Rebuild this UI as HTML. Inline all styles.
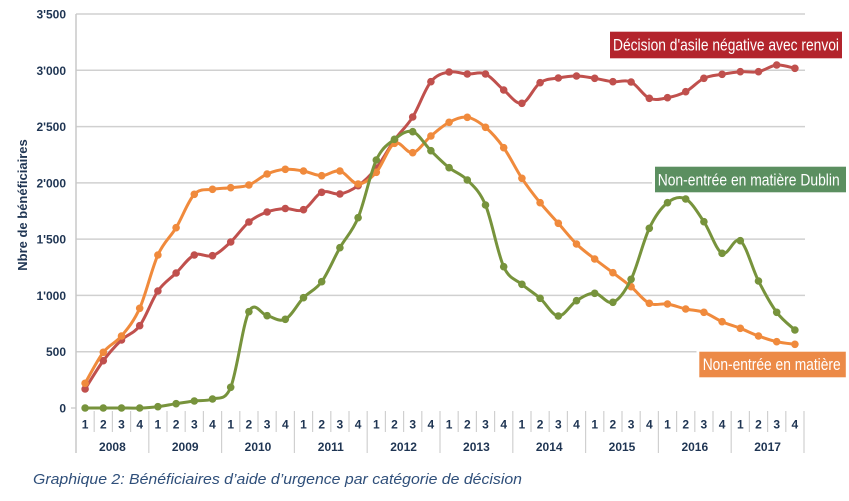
<!DOCTYPE html>
<html>
<head>
<meta charset="utf-8">
<style>
  html, body { margin:0; padding:0; background:#ffffff; }
  body { width:849px; height:501px; overflow:hidden; }
  svg { display:block; }
  .yt { font-family:"Liberation Sans", Arial, sans-serif; font-weight:bold; font-size:12px; fill:#1f3553; }
  .q  { font-family:"Liberation Sans", Arial, sans-serif; font-weight:bold; font-size:12px; fill:#1f3553; }
  .lbl { font-family:"Liberation Sans Narrow", "Liberation Sans", Arial, sans-serif; font-size:16.5px; fill:#ffffff; }
</style>
</head>
<body>
<svg id="c" width="849" height="501" viewBox="0 0 849 501" xmlns="http://www.w3.org/2000/svg">
  <!-- gridlines -->
  <g stroke="#d0d0d0" stroke-width="1.5">
    <line x1="76" y1="14" x2="805" y2="14"/>
    <line x1="76" y1="70.3" x2="805" y2="70.3"/>
    <line x1="76" y1="126.6" x2="805" y2="126.6"/>
    <line x1="76" y1="182.9" x2="805" y2="182.9"/>
    <line x1="76" y1="239.1" x2="805" y2="239.1"/>
    <line x1="76" y1="295.4" x2="805" y2="295.4"/>
    <line x1="76" y1="351.7" x2="805" y2="351.7"/>
    <line x1="71" y1="408" x2="76" y2="408"/>
  </g>
  <!-- axis line -->
  <line x1="76" y1="14" x2="76" y2="453" stroke="#c8c8c8" stroke-width="1.5"/>
  <g id="seps" stroke="#d0d0d0" stroke-width="1.2"></g>

  <!-- y tick labels -->
  <g class="yt" text-anchor="end">
    <text x="66" y="18.5">3'500</text>
    <text x="66" y="74.8">3'000</text>
    <text x="66" y="131.1">2'500</text>
    <text x="66" y="187.4">2'000</text>
    <text x="66" y="243.6">1'500</text>
    <text x="66" y="299.9">1'000</text>
    <text x="66" y="356.2">500</text>
    <text x="66" y="412.5">0</text>
  </g>
  <text transform="translate(27,205) rotate(-90)" text-anchor="middle" font-family="Liberation Sans, Arial, sans-serif" font-weight="bold" font-size="13px" fill="#1f3553">Nbre de bénéficiaires</text>

  <!-- quarter labels -->
  <g class="q" text-anchor="middle">
    <text x="85.1" y="428.5">1</text><text x="103.3" y="428.5">2</text><text x="121.5" y="428.5">3</text><text x="139.7" y="428.5">4</text>
    <text x="157.9" y="428.5">1</text><text x="176.1" y="428.5">2</text><text x="194.3" y="428.5">3</text><text x="212.5" y="428.5">4</text>
    <text x="230.7" y="428.5">1</text><text x="248.9" y="428.5">2</text><text x="267.1" y="428.5">3</text><text x="285.3" y="428.5">4</text>
    <text x="303.5" y="428.5">1</text><text x="321.7" y="428.5">2</text><text x="339.9" y="428.5">3</text><text x="358.1" y="428.5">4</text>
    <text x="376.3" y="428.5">1</text><text x="394.5" y="428.5">2</text><text x="412.7" y="428.5">3</text><text x="430.9" y="428.5">4</text>
    <text x="449.1" y="428.5">1</text><text x="467.3" y="428.5">2</text><text x="485.5" y="428.5">3</text><text x="503.7" y="428.5">4</text>
    <text x="521.9" y="428.5">1</text><text x="540.1" y="428.5">2</text><text x="558.3" y="428.5">3</text><text x="576.5" y="428.5">4</text>
    <text x="594.7" y="428.5">1</text><text x="612.9" y="428.5">2</text><text x="631.1" y="428.5">3</text><text x="649.3" y="428.5">4</text>
    <text x="667.5" y="428.5">1</text><text x="685.7" y="428.5">2</text><text x="703.9" y="428.5">3</text><text x="722.1" y="428.5">4</text>
    <text x="740.3" y="428.5">1</text><text x="758.5" y="428.5">2</text><text x="776.7" y="428.5">3</text><text x="794.9" y="428.5">4</text>
    <text x="112.4" y="451">2008</text>
    <text x="185.2" y="451">2009</text>
    <text x="258" y="451">2010</text>
    <text x="330.8" y="451">2011</text>
    <text x="403.6" y="451">2012</text>
    <text x="476.4" y="451">2013</text>
    <text x="549.2" y="451">2014</text>
    <text x="622" y="451">2015</text>
    <text x="694.8" y="451">2016</text>
    <text x="767.6" y="451">2017</text>
  </g>

  <g id="series"></g>

  <!-- labels -->
  <rect x="607" y="29" width="238" height="32" fill="#ffffff"/>
  <rect x="610" y="31.7" width="232" height="26.6" fill="#b3242c"/>
  <text class="lbl" x="613" y="50.5" textLength="226" lengthAdjust="spacingAndGlyphs">Décision d'asile négative avec renvoi</text>

  <rect x="652" y="164" width="197" height="31" fill="#ffffff"/>
  <rect x="655" y="166.7" width="191" height="25.6" fill="#5b8f60"/>
  <text class="lbl" x="657.7" y="185.7" textLength="182" lengthAdjust="spacingAndGlyphs">Non-entrée en matière Dublin</text>

  <rect x="696.5" y="349" width="152" height="31" fill="#ffffff"/>
  <rect x="699.3" y="351.7" width="146.5" height="25.6" fill="#ec8a47"/>
  <text class="lbl" x="702.7" y="370" textLength="138" lengthAdjust="spacingAndGlyphs">Non-entrée en matière</text>

  <!-- caption -->
  <text x="33" y="484" font-family="Liberation Sans, Arial, sans-serif" font-style="italic" font-size="14.5px" fill="#2f4f7a" textLength="489" lengthAdjust="spacingAndGlyphs">Graphique 2: Bénéficiaires d’aide d’urgence par catégorie de décision</text>
</svg>
<script>
(function(){
  var NS="http://www.w3.org/2000/svg";
  var seps=document.getElementById("seps");
  for(var k=1;k<=40;k++){
    var x=76+18.2*k;
    var l=document.createElementNS(NS,"line");
    l.setAttribute("x1",x);l.setAttribute("x2",x);
    l.setAttribute("y1",411);
    l.setAttribute("y2",(k%4===0)?453:432);
    seps.appendChild(l);
  }
  var red=[389,360.7,340,325.7,291,273,255,255.7,242,222,212,208.5,209.7,192.3,194,185.7,168,140,117,81.7,72,74,74,90,103.3,82.7,78,76,78.3,81.7,82,98.3,97.7,91.7,78.3,74.3,71.7,71.7,65,68.3];
  var orange=[383.3,352.3,336,308.3,255,227.7,194.3,189.3,187.7,185,174,169.3,171,175.7,171,184,172.3,143.3,152.7,136,122.3,117.3,127.3,147.7,178.3,202.7,223.3,244,259,272.7,286.7,303.3,304,309,312.3,321.7,328.3,336,341.7,344.3];
  var green=[408,408,408,408,406.7,403.7,401,399,387.3,311.7,315.7,319.3,297.7,281.7,247.7,217.7,160,139.3,131.7,150.7,167.7,180,205,266.7,284.3,298.3,316,300.7,293.3,302.3,279.3,228.3,202.7,199,221.7,253.3,240.7,281,312.3,330];
  var g=document.getElementById("series");
  function draw(ys,col){
    var pts=ys.map(function(y,i){return [85.1+18.2*i,y];});
    var d="M"+pts[0][0]+","+pts[0][1];
    for(var i=0;i<pts.length-1;i++){
      var p0=pts[Math.max(0,i-1)],p1=pts[i],p2=pts[i+1],p3=pts[Math.min(pts.length-1,i+2)];
      var c1x=p1[0]+(p2[0]-p0[0])/6,c1y=p1[1]+(p2[1]-p0[1])/6;
      var c2x=p2[0]-(p3[0]-p1[0])/6,c2y=p2[1]-(p3[1]-p1[1])/6;
      d+=" C"+c1x.toFixed(2)+","+c1y.toFixed(2)+" "+c2x.toFixed(2)+","+c2y.toFixed(2)+" "+p2[0].toFixed(2)+","+p2[1].toFixed(2);
    }
    var p=document.createElementNS(NS,"path");
    p.setAttribute("d",d);p.setAttribute("fill","none");p.setAttribute("stroke",col);
    p.setAttribute("stroke-width","3");p.setAttribute("stroke-linejoin","round");
    g.appendChild(p);
    pts.forEach(function(q){
      var c=document.createElementNS(NS,"circle");
      c.setAttribute("cx",q[0]);c.setAttribute("cy",q[1]);c.setAttribute("r","3.8");
      c.setAttribute("fill",col);
      g.appendChild(c);
    });
  }
  draw(red,"#c0504d");
  draw(orange,"#f08a3c");
  draw(green,"#77933c");
})();
</script>
</body>
</html>
